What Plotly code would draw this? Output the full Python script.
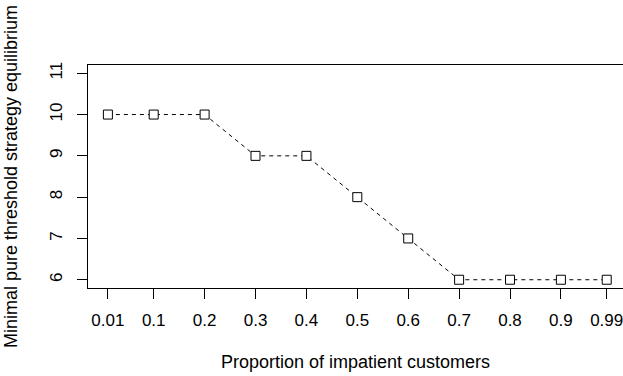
import plotly.graph_objects as go

proportions = [0.01, 0.1, 0.2, 0.3, 0.4, 0.5, 0.6, 0.7, 0.8, 0.9, 0.99]
threshold = [10, 10, 10, 9, 9, 8, 7, 6, 6, 6, 6]
x_tick_labels = ["0.01", "0.1", "0.2", "0.3", "0.4", "0.5", "0.6", "0.7", "0.8", "0.9", "0.99"]
y_ticks = [6, 7, 8, 9, 10, 11]

FONT = "Liberation Sans, Arial, Helvetica, sans-serif"

fig = go.Figure()
fig.add_trace(go.Scatter(
    x=proportions, y=threshold, mode="lines+markers",
    line=dict(color="black", width=1, dash="4px,4px"),
    marker=dict(symbol="square", size=9, color="white",
                line=dict(color="black", width=1)),
    showlegend=False,
))

fig.update_layout(
    width=623, height=376,
    margin=dict(l=88, r=0, t=65, b=88, autoexpand=False),
    paper_bgcolor="white", plot_bgcolor="white",
    font=dict(family=FONT, size=17, color="black"),
    xaxis=dict(
        range=[-0.0291, 1.022], tickmode="array",
        tickvals=proportions, ticktext=x_tick_labels,
        showgrid=False, zeroline=False, automargin=False,
        showline=True, linecolor="black", linewidth=1, mirror=True,
        ticks="outside", ticklen=10, tickcolor="black", tickwidth=1,
        ticklabelstandoff=7, ticklabeloverflow="allow",
        title=dict(text="Proportion of impatient customers", standoff=25,
                   font=dict(size=18)),
    ),
    yaxis=dict(
        range=[5.8, 11.2], tickmode="array", tickvals=y_ticks,
        showgrid=False, zeroline=False, automargin=False,
        showline=True, linecolor="black", linewidth=1,
        ticks="outside", ticklen=10, tickcolor="black", tickwidth=1,
        tickangle=-90, ticklabelstandoff=8,
        title=dict(text="Minimal pure threshold strategy equilibrium", standoff=24,
                   font=dict(size=18)),
    ),
)

fig.write_html(
    "out.html",
    config={"displayModeBar": False},
    post_script="document.body.style.margin='0';document.body.style.overflow='hidden';",
)
